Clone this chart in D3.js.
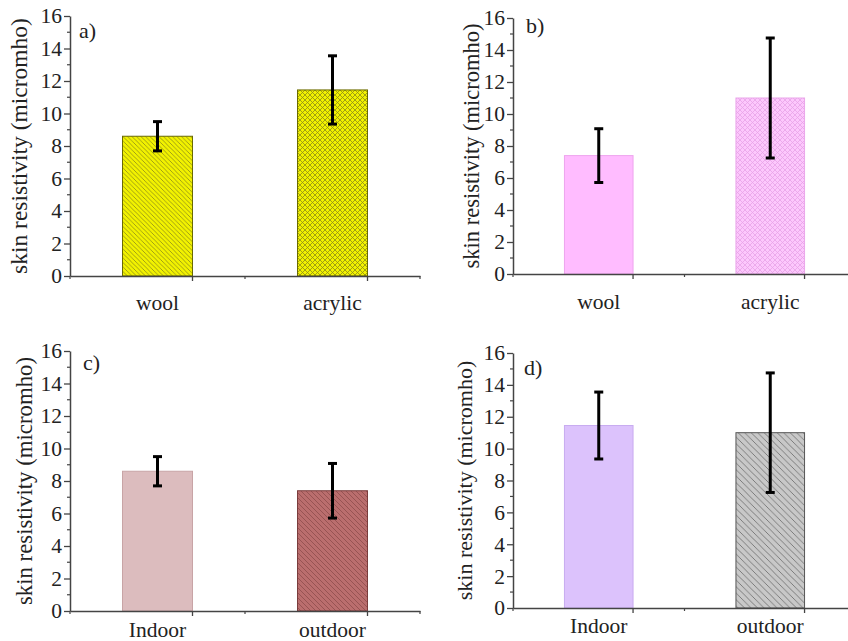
<!DOCTYPE html>
<html>
<head>
<meta charset="utf-8">
<script src="https://cdn.jsdelivr.net/npm/d3@7"></script>
<style>
  html, body { margin: 0; padding: 0; background: #fff; }
  svg { display: block; }
  text { font-family: "Liberation Serif", "Times New Roman", serif; fill: #222; }
</style>
</head>
<body>
<svg id="chart" width="848" height="641"></svg>
<script>
// ---------- data ----------
const panelLetters = ["a)", "b)", "c)", "d)"];
const fabricCategories = ["wool", "acrylic"];
const placeCategories = ["Indoor", "outdoor"];
const yTickValues = [0, 2, 4, 6, 8, 10, 12, 14, 16];
const yLabel = "skin resistivity (micromho)";

const meansA = [8.6, 11.45];
const errorsA = [0.9, 2.1];
const meansB = [7.4, 11.0];
const errorsB = [1.68, 3.75];
const meansC = [8.6, 7.4];
const errorsC = [0.9, 1.68];
const meansD = [11.45, 11.0];
const errorsD = [2.1, 3.75];

// ---------- layout / style ----------
const panels = [
  { letter: panelLetters[0], cats: fabricCategories, means: meansA, errs: errorsA,
    x0: 70, x1: 420, yTop: 16, yBot: 276, labelX: 27, labelSize: 23.5, letterPos: [79, 38], catY: 310,
    styles: [
      { fill: "#f2f200", stroke: "#6a6a00", pattern: "diag", line: "#8c8c18", size: 4.5 },
      { fill: "#f2f200", stroke: "#6a6a00", pattern: "cross", line: "#8c8c18", size: 5 }] },
  { letter: panelLetters[1], cats: fabricCategories, means: meansB, errs: errorsB,
    x0: 513, x1: 856, yTop: 18, yBot: 274, labelX: 479, labelSize: 22.5, letterPos: [526, 33], catY: 309,
    styles: [
      { fill: "#ffbcff", stroke: "#eea4ee", pattern: null },
      { fill: "#fcc8fc", stroke: "#eaa6ea", pattern: "cross", line: "#e8a2e8", size: 5 }] },
  { letter: panelLetters[2], cats: placeCategories, means: meansC, errs: errorsC,
    x0: 70, x1: 420, yTop: 351, yBot: 611, labelX: 32, labelSize: 22.8, letterPos: [83, 370], catY: 637,
    styles: [
      { fill: "#dcbcbe", stroke: "#c8a4a6", pattern: null },
      { fill: "#ba6e6e", stroke: "#7a3c3c", pattern: "diag", line: "#8e4c4c", size: 5 }] },
  { letter: panelLetters[3], cats: placeCategories, means: meansD, errs: errorsD,
    x0: 513, x1: 856, yTop: 353, yBot: 608, labelX: 472, labelSize: 22, letterPos: [524, 375], catY: 633,
    styles: [
      { fill: "#dcc2fc", stroke: "#c8acf0", pattern: null },
      { fill: "#c8c8c8", stroke: "#555", pattern: "diag", line: "#6a6a6a", size: 6.5 }] }
];

const svg = d3.select("#chart");
const defs = svg.append("defs");

function makePattern(id, type, bg, line, s) {
  const p = defs.append("pattern").attr("id", id)
    .attr("patternUnits", "userSpaceOnUse").attr("width", s).attr("height", s);
  p.append("rect").attr("width", s).attr("height", s).attr("fill", bg);
  const a = s + 1;
  p.append("path").attr("d", `M-1,-1 L${a},${a} M-1,${s - 1} L1,${a} M${s - 1},-1 L${a},1`)
    .attr("stroke", line).attr("stroke-width", 0.8).attr("fill", "none");
  if (type === "cross") {
    p.append("path").attr("d", `M-1,${a} L${a},-1 M-1,1 L1,-1 M${s - 1},${a} L${a},${s - 1}`)
      .attr("stroke", line).attr("stroke-width", 0.8).attr("fill", "none");
  }
  return "url(#" + id + ")";
}

panels.forEach((P, pi) => {
  const g = svg.append("g");
  const y = d3.scaleLinear().domain([0, 16]).range([P.yBot, P.yTop]);
  const x = d3.scaleBand().domain(P.cats).range([P.x0, P.x1])
    .paddingInner(0.6).paddingOuter(0.3);

  // bars
  P.cats.forEach((c, i) => {
    const st = P.styles[i];
    const fill = st.pattern ? makePattern("pat" + pi + "_" + i, st.pattern, st.fill, st.line, st.size) : st.fill;
    g.append("rect")
      .attr("x", x(c)).attr("width", x.bandwidth())
      .attr("y", y(P.means[i])).attr("height", y(0) - y(P.means[i]))
      .attr("fill", fill).attr("stroke", st.stroke).attr("stroke-width", 1);
  });

  // error bars
  P.cats.forEach((c, i) => {
    const cx = x(c) + x.bandwidth() / 2;
    const hi = y(P.means[i] + P.errs[i]), lo = y(P.means[i] - P.errs[i]);
    g.append("line").attr("x1", cx).attr("x2", cx).attr("y1", hi).attr("y2", lo)
      .attr("stroke", "#000").attr("stroke-width", 3);
    [hi, lo].forEach(yy => g.append("line").attr("x1", cx - 4.5).attr("x2", cx + 4.5)
      .attr("y1", yy).attr("y2", yy).attr("stroke", "#000").attr("stroke-width", 3));
  });

  // y axis
  const yAxis = d3.axisLeft(y).tickValues(yTickValues).tickSize(6).tickPadding(2).tickSizeOuter(0);
  const ya = g.append("g").attr("transform", `translate(${P.x0},0)`).call(yAxis)
    .attr("font-family", "Liberation Serif");
  ya.select(".domain").attr("stroke", "#444").attr("stroke-width", 1.5);
  ya.selectAll(".tick line").attr("stroke", "#444").attr("stroke-width", 1.3);
  ya.selectAll(".tick text").attr("font-size", 21.5).attr("fill", "#222");
  const minorY = d3.range(1, 16, 2);
  g.append("g").selectAll("line").data(minorY).join("line")
    .attr("x1", P.x0 - 3).attr("x2", P.x0).attr("y1", d => y(d)).attr("y2", d => y(d))
    .attr("stroke", "#444").attr("stroke-width", 1.2);

  // x axis
  const xAxis = d3.axisBottom(x).tickSize(5).tickSizeOuter(0).tickFormat("");
  const xa = g.append("g").attr("transform", `translate(0,${P.yBot})`).call(xAxis);
  xa.select(".domain").attr("stroke", "#444").attr("stroke-width", 1.5);
  xa.selectAll(".tick line").attr("stroke", "#444").attr("stroke-width", 1.3)
    .attr("transform", `translate(${x.bandwidth() / 2},0)`);
  const bnds = [P.x0, (x(P.cats[0]) + x.bandwidth() + x(P.cats[1])) / 2, P.x1];
  g.append("g").selectAll("line").data(bnds).join("line")
    .attr("x1", d => d).attr("x2", d => d).attr("y1", P.yBot).attr("y2", P.yBot + 3)
    .attr("stroke", "#444").attr("stroke-width", 1.2);

  // category labels
  g.append("g").selectAll("text").data(P.cats).join("text")
    .attr("x", d => x(d) + x.bandwidth() / 2).attr("y", P.catY)
    .attr("text-anchor", "middle").attr("font-size", 21.5).text(d => d);

  // y label
  g.append("text")
    .attr("transform", `translate(${P.labelX},${(P.yTop + P.yBot) / 2}) rotate(-90)`)
    .attr("text-anchor", "middle").attr("font-size", P.labelSize).text(yLabel);

  // panel letter
  g.append("text").attr("x", P.letterPos[0]).attr("y", P.letterPos[1])
    .attr("font-size", 22).text(P.letter);
});
</script>
</body>
</html>
